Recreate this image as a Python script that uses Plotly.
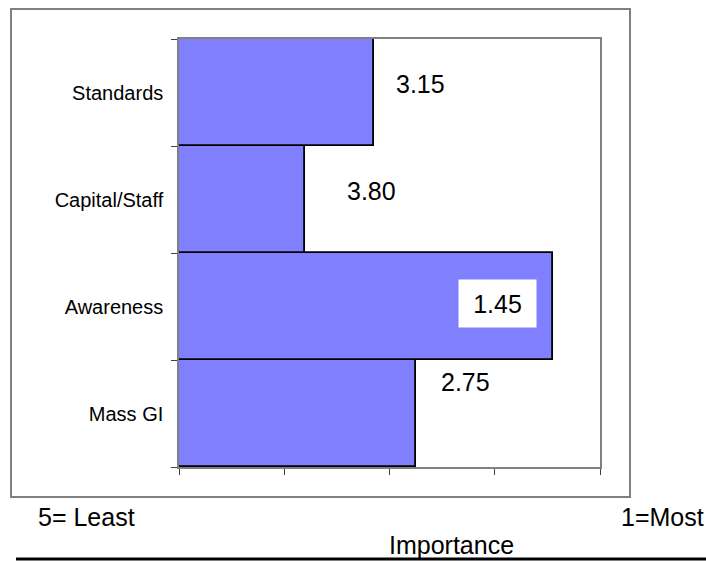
import plotly.graph_objects as go

# Importance ratings (5 = least important, 1 = most important)
categories = ["Mass GI", "Awareness", "Capital/Staff", "Standards"]
scores = [2.75, 1.45, 3.80, 3.15]
scale_ticks = [5, 4, 3, 2, 1]
baseline = 5

# label placement offsets (pixels) relative to each bar end
label_dx = [50, -55, 66, 47]
label_dy = [32, 3, 9, 9]
label_box = [False, True, False, False]

W, H = 706, 561
L, R, T, B = 179, 106, 39, 94
pw, ph = W - L - R, H - T - B

def px(x):
    return (x - L) / pw

def py(y):
    return (H - B - y) / ph

FONT = "Liberation Sans, Arial, sans-serif"
GRAY = "#808080"

fig = go.Figure()
fig.add_trace(go.Bar(
    y=categories,
    x=[s - baseline for s in scores],
    base=[baseline] * len(scores),
    orientation="h",
    marker=dict(color="#8080FF", line=dict(color="black", width=1.8)),
    hoverinfo="skip",
))

annotations = []
for cat, s, dx, dy, box in zip(categories, scores, label_dx, label_dy, label_box):
    a = dict(x=s, y=cat, xref="x", yref="y", text=f"{s:.2f}", showarrow=False,
             xshift=dx, yshift=dy, font=dict(family=FONT, size=25, color="black"),
             xanchor="center", yanchor="middle")
    if box:
        a.update(bgcolor="white", width=77, height=47, borderpad=0)
    annotations.append(a)

annotations += [
    dict(x=px(36), y=py(517), xref="paper", yref="paper", text="5= Least",
         showarrow=False, xanchor="left", yanchor="middle",
         font=dict(family=FONT, size=25, color="black")),
    dict(x=px(706), y=py(517), xref="paper", yref="paper", text="1=Most",
         showarrow=False, xanchor="right", yanchor="middle",
         font=dict(family=FONT, size=25, color="black")),
    dict(x=px(451), y=py(545), xref="paper", yref="paper", text="Importance",
         showarrow=False, xanchor="center", yanchor="middle",
         font=dict(family=FONT, size=25, color="black")),
]

shapes = [
    dict(type="rect", xref="paper", yref="paper", x0=px(11), x1=px(630),
         y0=py(497), y1=py(9), line=dict(color=GRAY, width=2), layer="below"),
    dict(type="line", xref="paper", yref="paper", x0=px(16), x1=px(706),
         y0=py(559), y1=py(559), line=dict(color="black", width=3)),
]

fig.update_layout(
    width=W, height=H, autosize=False,
    margin=dict(l=L, r=R, t=T, b=B, pad=0),
    paper_bgcolor="white", plot_bgcolor="white",
    bargap=0, showlegend=False,
    annotations=annotations, shapes=shapes,
    font=dict(family=FONT, color="black"),
)
fig.update_xaxes(
    range=[5, 1], tickvals=scale_ticks, showticklabels=False,
    ticks="outside", ticklen=6, tickcolor="#404040", tickwidth=1,
    showline=True, linecolor=GRAY, linewidth=1.5, mirror=True,
    showgrid=False, zeroline=False, fixedrange=True,
)
fig.update_yaxes(
    categoryorder="array", categoryarray=categories,
    tickson="boundaries", ticks="outside", ticklen=6, tickcolor="#404040",
    showline=True, linecolor=GRAY, linewidth=1.5, mirror=True,
    showgrid=False, zeroline=False, fixedrange=True,
    tickfont=dict(family=FONT, size=20, color="black"),
    ticklabelstandoff=10,
)

fig.write_html("out.html")
